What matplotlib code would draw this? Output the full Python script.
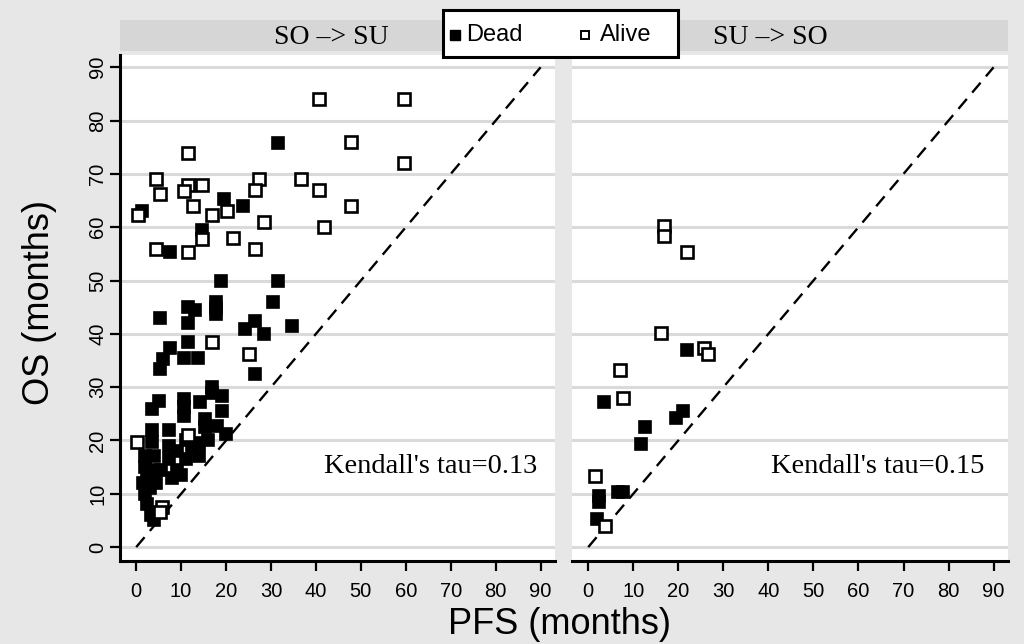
import matplotlib
matplotlib.use("Agg")
import matplotlib.pyplot as plt
from matplotlib.patches import Rectangle
from matplotlib.lines import Line2D

# ---------------- data ----------------
panel_titles = ["SO \u2013> SU", "SU \u2013> SO"]
kendall_labels = ["Kendall's tau=0.13", "Kendall's tau=0.15"]
x_ticks = [0, 10, 20, 30, 40, 50, 60, 70, 80, 90]
y_ticks = [0, 10, 20, 30, 40, 50, 60, 70, 80, 90]

left_alive_pfs = [40.6, 59.6, 47.7, 59.6, 11.5, 4.4, 27.4, 36.6, 11.5, 14.6, 10.6, 5.3, 26.5,
                  40.6, 12.6, 20.3, 16.8, 47.7, 0.4, 28.5, 41.7, 14.6, 21.6, 4.4, 11.5, 26.5,
                  16.8, 25.0, 0.2, 11.6, 5.7, 5.3]
left_alive_os = [84, 84, 76, 72, 74, 69, 69, 69, 68, 68, 66.7, 66.2, 67,
                 67, 64, 63, 62.3, 64, 62.3, 61, 60, 57.8, 58, 56, 55.3, 56,
                 38.4, 36.2, 19.7, 21, 7.5, 6.6]

left_dead_pfs = [31.6, 19.6, 23.8, 1.3, 14.6, 7.5, 18.8, 31.6, 30.5, 5.3, 11.5, 13.2, 11.5,
                 17.7, 17.7, 17.7, 26.5, 24.3, 28.5, 34.7, 11.5, 7.5, 6.0, 10.6, 13.7, 5.3,
                 26.5, 16.8, 16.8, 19.2, 19.2, 14.3, 10.6, 10.6, 10.6, 5.0, 3.5, 3.5, 3.5,
                 7.3, 7.3, 7.3, 15.4, 15.4, 17.9, 19.9, 14.0, 14.0, 11.0, 11.0, 9.0, 9.0,
                 8.0, 2.0, 4.0, 2.0, 4.0, 2.5, 4.5, 3.0, 2.0, 2.5, 3.3, 4.0, 1.5, 5.5,
                 12.5, 16.0, 10.0]
left_dead_os = [75.8, 65.3, 64, 63, 59.5, 55.3, 50, 50, 46, 43, 45, 44.5, 42,
                46, 44.8, 43.7, 42.4, 41, 40, 41.5, 38.4, 37.3, 35.3, 35.4, 35.4, 33.4,
                32.5, 30, 29, 28.3, 25.5, 27.2, 27.8, 26.2, 24.6, 27.5, 26, 22, 19.7,
                22, 19, 16.5, 24, 22.5, 22.7, 21.2, 19.5, 17, 20, 16.5, 18, 14.5,
                13, 17, 17, 15, 14.5, 13, 12, 11, 10, 8, 6, 5, 12, 14.5,
                18.5, 20, 13.5]

right_alive_pfs = [16.8, 16.8, 21.9, 16.1, 25.8, 26.5, 7.1, 7.7, 1.5, 3.8]
right_alive_os = [60.2, 58.3, 55.3, 40.1, 37.3, 36.2, 33.2, 28, 13.3, 4]
right_dead_pfs = [21.9, 3.5, 21.0, 19.6, 12.6, 11.7, 2.4, 2.4, 6.6, 7.7, 2.0]
right_dead_os = [37, 27.2, 25.5, 24.2, 22.5, 19.3, 9.6, 8.4, 10.3, 10.3, 5.3]

diag = [0, 90]

# ---------------- figure ----------------
W, H = 1024, 644
bg = "#e7e7e7"
strip_col = "#d6d6d6"
fig = plt.figure(figsize=(W / 100, H / 100), dpi=100, facecolor=bg)

def fx(px):
    return px / W

def fy(py):
    return 1 - py / H

ax_top, ax_bot = 55, 561
axL = fig.add_axes([fx(120), fy(ax_bot), fx(555 - 120), (ax_bot - ax_top) / H])
axR = fig.add_axes([fx(572), fy(ax_bot), fx(1008 - 572), (ax_bot - ax_top) / H])

panels = [
    (axL, left_dead_pfs, left_dead_os, left_alive_pfs, left_alive_os, kendall_labels[0]),
    (axR, right_dead_pfs, right_dead_os, right_alive_pfs, right_alive_os, kendall_labels[1]),
]

for i, (ax, dx, dy, axx, ayy, klab) in enumerate(panels):
    ax.set_facecolor("white")
    ax.set_xlim(-3.6, 93.2)
    ax.set_ylim(-2.6, 92.3)
    for yv in y_ticks:
        ax.axhline(yv, color="#dadada", lw=2.2, zorder=0)
    ax.plot(diag, diag, color="black", lw=1.7, ls=(0, (5.5, 3.5)), zorder=1)
    ax.plot(dx, dy, ls="none", marker="s", ms=8.6, mfc="black", mec="black",
            mew=1.2, zorder=2)
    ax.plot(axx, ayy, ls="none", marker="s", ms=8.0, mfc="white", mec="black",
            mew=1.9, zorder=3)
    ax.text(89.3 if i == 0 else 88.0, 15.2, klab, ha="right", va="center",
            fontsize=20.5, family="Liberation Serif", color="black")
    ax.set_xticks(x_ticks)
    ax.set_xticklabels([str(t) for t in x_ticks], fontsize=14.5, family="Liberation Sans")
    ax.tick_params(axis="x", direction="out", length=7, width=1.6, pad=8, colors="black")
    for s in ["top", "right"]:
        ax.spines[s].set_visible(False)
    ax.spines["bottom"].set_linewidth(2.2)
    if i == 0:
        ax.spines["left"].set_linewidth(2.2)
        ax.set_yticks(y_ticks)
        ax.set_yticklabels([str(t) for t in y_ticks], fontsize=14.5,
                           family="Liberation Sans", rotation=90, va="center")
        ax.tick_params(axis="y", direction="out", length=7, width=1.6, pad=2)
    else:
        ax.spines["left"].set_visible(False)
        ax.set_yticks([])

# header strips
for x0, x1 in [(120, 555), (572, 1008)]:
    fig.patches.append(Rectangle((fx(x0), fy(51)), fx(x1 - x0), 31 / H,
                                 transform=fig.transFigure, facecolor=strip_col,
                                 edgecolor="none", zorder=0))
fig.text(fx(331), fy(37), panel_titles[0], ha="center", va="center",
         fontsize=20, family="Liberation Serif")
fig.text(fx(770), fy(37), panel_titles[1], ha="center", va="center",
         fontsize=20, family="Liberation Serif")

# legend
fig.patches.append(Rectangle((fx(443), fy(57)), fx(678 - 443), 47 / H,
                             transform=fig.transFigure, facecolor="white",
                             edgecolor="black", lw=2.2, zorder=5))
fig.lines.append(Line2D([fx(455)], [fy(35)], transform=fig.transFigure, ls="none",
                        marker="s", ms=6.5, mfc="black", mec="black", zorder=6))
fig.text(fx(466), fy(35), "Dead", ha="left", va="center", fontsize=17,
         family="Liberation Sans", zorder=6)
fig.lines.append(Line2D([fx(585)], [fy(35)], transform=fig.transFigure, ls="none",
                        marker="s", ms=6, mfc="white", mec="black", mew=1.4, zorder=6))
fig.text(fx(600), fy(35), "Alive", ha="left", va="center", fontsize=17,
         family="Liberation Sans", zorder=6)

# axis titles
fig.text(fx(40), fy(302), "OS (months)", rotation=90, ha="center", va="center",
         fontsize=26, family="Liberation Sans")
fig.text(fx(559), fy(624), "PFS (months)", ha="center", va="center",
         fontsize=26, family="Liberation Sans")

fig.savefig("out.png", dpi=100, facecolor=bg)
